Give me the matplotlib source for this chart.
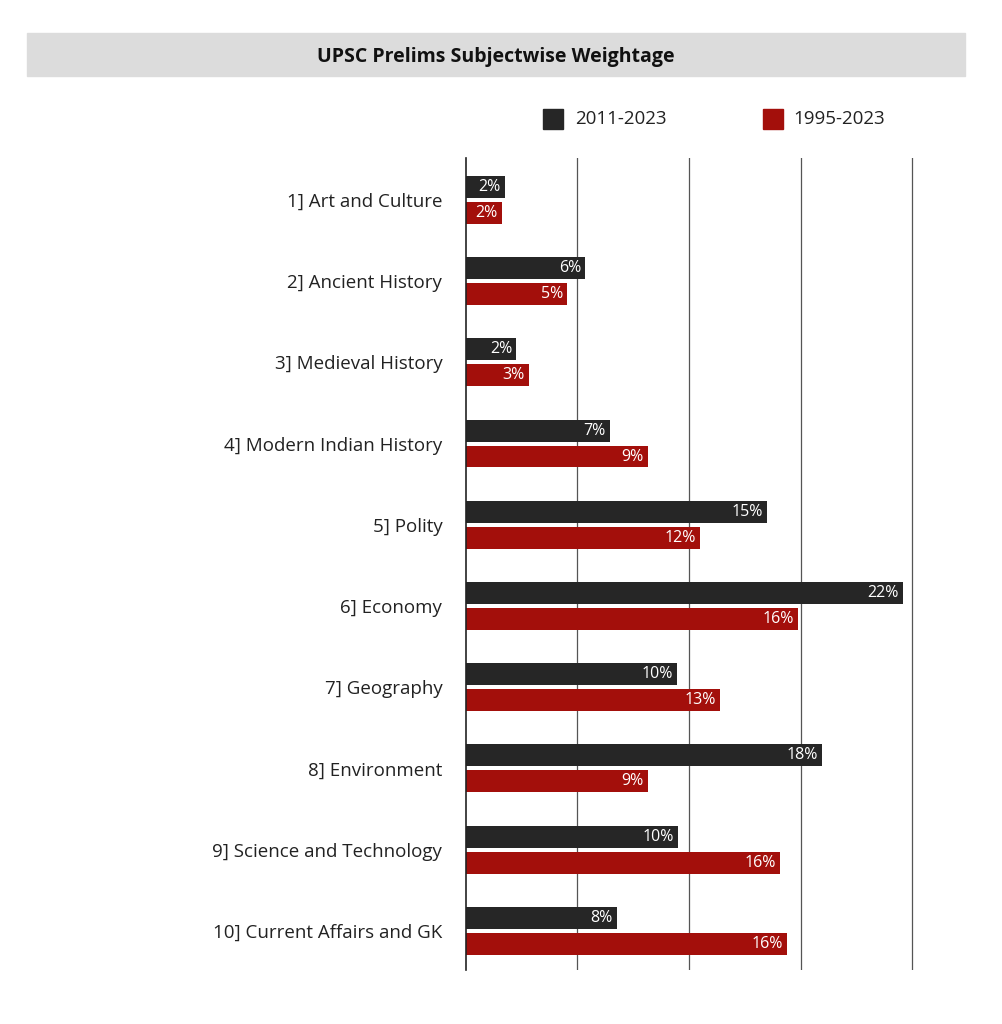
import numpy as np
import matplotlib.pyplot as plt
from matplotlib.patches import Rectangle

plt.rcParams['font.family'] = ['Open Sans', 'DejaVu Sans']

categories = ["1] Art and Culture", "2] Ancient History", "3] Medieval History",
              "4] Modern Indian History", "5] Polity", "6] Economy", "7] Geography",
              "8] Environment", "9] Science and Technology", "10] Current Affairs and GK"]
vals_2011 = [1.96, 5.99, 2.52, 7.25, 15.16, 22.0, 10.62, 17.93, 10.67, 7.6]
vals_1995 = [1.81, 5.09, 3.17, 9.16, 11.78, 16.72, 12.79, 9.16, 15.81, 16.16]
labels_2011 = ["2%", "6%", "2%", "7%", "15%", "22%", "10%", "18%", "10%", "8%"]
labels_1995 = ["2%", "5%", "3%", "9%", "12%", "16%", "13%", "9%", "16%", "16%"]

DARK = "#262626"
RED = "#a30f0b"

fig = plt.figure(figsize=(10.02, 10.24), dpi=100)
ax = fig.add_axes([0.465, 0.053, 0.447, 0.793])

y = np.arange(len(categories))
h = 0.27
off = 0.16
ax.barh(y - off, vals_2011, height=h, color=DARK)
ax.barh(y + off, vals_1995, height=h, color=RED)
for yi, v, t in zip(y, vals_2011, labels_2011):
    ax.text(v - 0.2, yi - off, t, color="white", ha="right", va="center", fontsize=11.5)
for yi, v, t in zip(y, vals_1995, labels_1995):
    ax.text(v - 0.2, yi + off, t, color="white", ha="right", va="center", fontsize=11.5)

grid_max = 22.46
ax.set_xlim(0, grid_max * 1.004)
ax.set_xticks(np.linspace(0, grid_max, 5)[1:])
ax.set_xticklabels([])
ax.tick_params(axis='x', length=0)
ax.grid(axis='x', color="#555555", linewidth=0.9)
ax.set_axisbelow(True)
ax.set_ylim(9.48, -0.52)
ax.set_yticks(y)
ax.set_yticklabels(categories, fontsize=13.5, color="#222222")
ax.tick_params(axis='y', length=0, pad=17)
for s in ["top", "right", "bottom"]:
    ax.spines[s].set_visible(False)
ax.spines["left"].set_color("#222222")
ax.spines["left"].set_linewidth(1.2)

# title box
fig.patches.append(Rectangle((0.027, 0.926), 0.936, 0.042, transform=fig.transFigure,
                             color="#dcdcdc", zorder=0))
fig.text(0.495, 0.944, "UPSC Prelims Subjectwise Weightage", ha="center", va="center",
         fontsize=14, fontweight="bold", color="#111111")

# legend
fig.patches.append(Rectangle((0.542, 0.874), 0.02, 0.02, transform=fig.transFigure, color=DARK))
fig.text(0.574, 0.884, "2011-2023", va="center", fontsize=13.5, color="#222222")
fig.patches.append(Rectangle((0.761, 0.874), 0.02, 0.02, transform=fig.transFigure, color=RED))
fig.text(0.792, 0.884, "1995-2023", va="center", fontsize=13.5, color="#222222")

fig.savefig("out.png", dpi=100, facecolor="white")
